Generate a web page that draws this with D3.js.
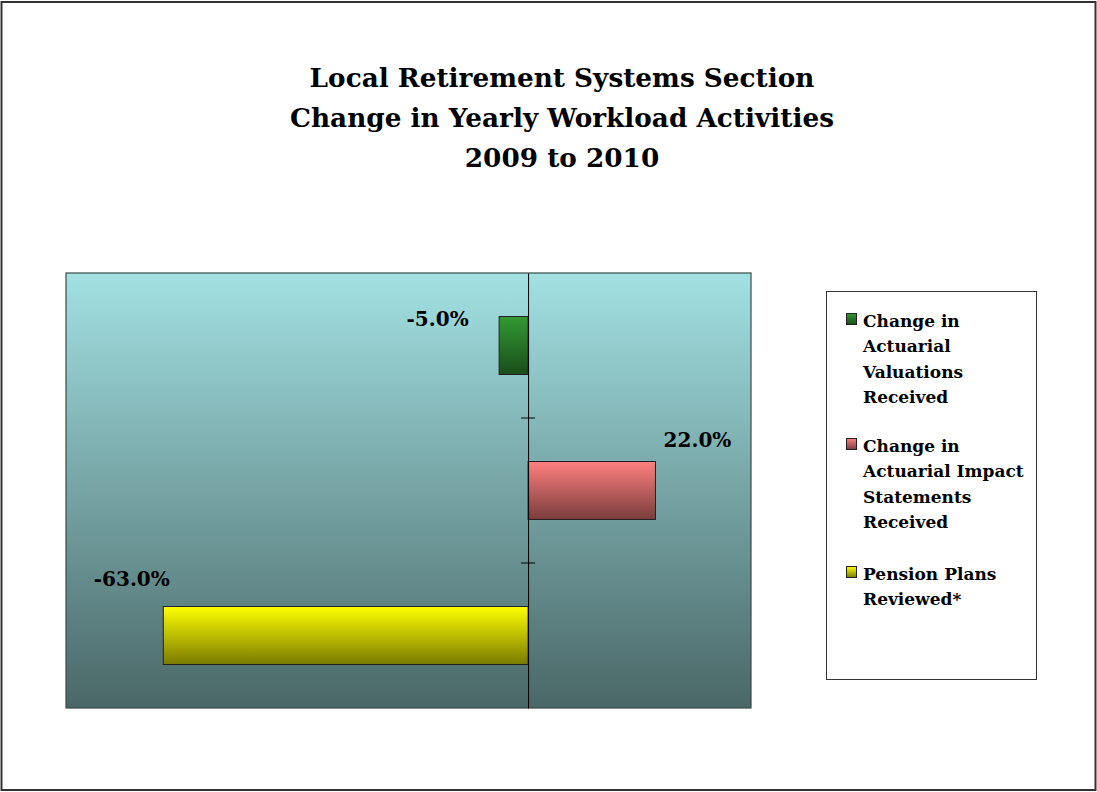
<!DOCTYPE html>
<html><head><meta charset="utf-8">
<script src="https://cdn.jsdelivr.net/npm/d3@7"></script>
<style>html,body{margin:0;padding:0;background:#fff;}svg{display:block;}</style>
</head><body>
<script>
const categories = ["Change in Actuarial Valuations Received", "Change in Actuarial Impact Statements Received", "Pension Plans Reviewed*"];
const values = [-5.0, 22.0, -63.0];
const legendLines = [["Change in", "Actuarial", "Valuations", "Received"], ["Change in", "Actuarial Impact", "Statements", "Received"], ["Pension Plans", "Reviewed*"]];
const titleLines = ["Local Retirement Systems Section", "Change in Yearly Workload Activities", "2009 to 2010"];

const colorsTop = ["#339933", "#ff8080", "#ffff00"];
const colorsBot = ["#1a4d1a", "#7a3c3c", "#7a7a00"];
const labelDx = [-61.5, 42, -31.5];
const labelDy = [9, -15, -21];
const FONT = "'DejaVu Serif', serif";

const W = 1097, H = 792;
const svg = d3.select("body").append("svg").attr("width", W).attr("height", H);
const defs = svg.append("defs");

// outer border
svg.append("rect").attr("x", 1.5).attr("y", 2).attr("width", 1094).attr("height", 788)
  .attr("fill", "#fff").attr("stroke", "#333").attr("stroke-width", 2);

// title
svg.append("g").selectAll("text").data(titleLines).join("text")
  .attr("x", 562).attr("y", (d, i) => 87 + i * 40)
  .attr("text-anchor", "middle").attr("font-family", FONT).attr("font-weight", "bold")
  .attr("font-size", 26.3).attr("fill", "#000").text(d => d);

const plot = {x0: 66, x1: 751, y0: 273, y1: 708};
// background gradient
const bg = defs.append("linearGradient").attr("id", "bg").attr("x1", 0).attr("y1", 0).attr("x2", 0).attr("y2", 1);
bg.append("stop").attr("offset", 0).attr("stop-color", "#a3e1e3");
bg.append("stop").attr("offset", 1).attr("stop-color", "#4a6767");
svg.append("rect").attr("x", plot.x0).attr("y", plot.y0).attr("width", plot.x1 - plot.x0).attr("height", plot.y1 - plot.y0)
  .attr("fill", "url(#bg)").attr("stroke", "#3a4a4a").attr("stroke-width", 1.2);

categories.forEach((c, i) => {
  const g = defs.append("linearGradient").attr("id", "g" + i).attr("x1", 0).attr("y1", 0).attr("x2", 0).attr("y2", 1);
  g.append("stop").attr("offset", 0).attr("stop-color", colorsTop[i]);
  g.append("stop").attr("offset", 1).attr("stop-color", colorsBot[i]);
});

const x = d3.scaleLinear().domain([-79.8, 38.5]).range([plot.x0, plot.x1]);
const y = d3.scaleBand().domain(categories).range([plot.y0, plot.y1]).paddingInner(0.6).paddingOuter(0.3);
const yb = d3.scaleBand().domain(categories).range([plot.y0, plot.y1]);

// bars
svg.append("g").selectAll("rect").data(values).join("rect")
  .attr("x", d => x(Math.min(0, d))).attr("width", d => Math.abs(x(d) - x(0)))
  .attr("y", (d, i) => y(categories[i])).attr("height", y.bandwidth())
  .attr("fill", (d, i) => `url(#g${i})`).attr("stroke", "#222").attr("stroke-width", 1);

// axis at zero
const axis = d3.axisLeft(yb).tickSize(0).tickFormat("");
const ax = svg.append("g").attr("transform", `translate(${x(0)},0)`).call(axis);
ax.select(".domain").attr("stroke", "#000").attr("stroke-width", 1);
// category boundary ticks
const bounds = categories.slice(1).map(c => yb(c));
svg.append("g").selectAll("line").data(bounds).join("line")
  .attr("x1", x(0) - 7).attr("x2", x(0) + 7).attr("y1", d => d).attr("y2", d => d)
  .attr("stroke", "#000").attr("stroke-width", 1);

// labels
const fmt = v => (v < 0 ? "-" : "") + Math.abs(v).toFixed(1) + "%";
svg.append("g").selectAll("text").data(values).join("text")
  .attr("x", (d, i) => x(d) + labelDx[i])
  .attr("y", (d, i) => y(categories[i]) + labelDy[i])
  .attr("text-anchor", "middle").attr("font-family", FONT).attr("font-weight", "bold")
  .attr("font-size", 20).attr("fill", "#000")
  .text(fmt);

// legend
const lg = svg.append("g");
lg.append("rect").attr("x", 826.5).attr("y", 291.5).attr("width", 210).attr("height", 388)
  .attr("fill", "#fff").attr("stroke", "#333").attr("stroke-width", 1);
const entryY = [327, 452, 580];
legendLines.forEach((lines, i) => {
  lg.append("rect").attr("x", 846.5).attr("y", entryY[i] - 13.5).attr("width", 10).attr("height", 11)
    .attr("fill", `url(#g${i})`).attr("stroke", "#222").attr("stroke-width", 1);
  lg.append("g").selectAll("text").data(lines).join("text")
    .attr("x", 863).attr("y", (d, j) => entryY[i] + j * 25.3)
    .attr("font-family", FONT).attr("font-weight", "bold").attr("font-size", 17).attr("fill", "#000")
    .text(d => d);
});
</script>
</body></html>
